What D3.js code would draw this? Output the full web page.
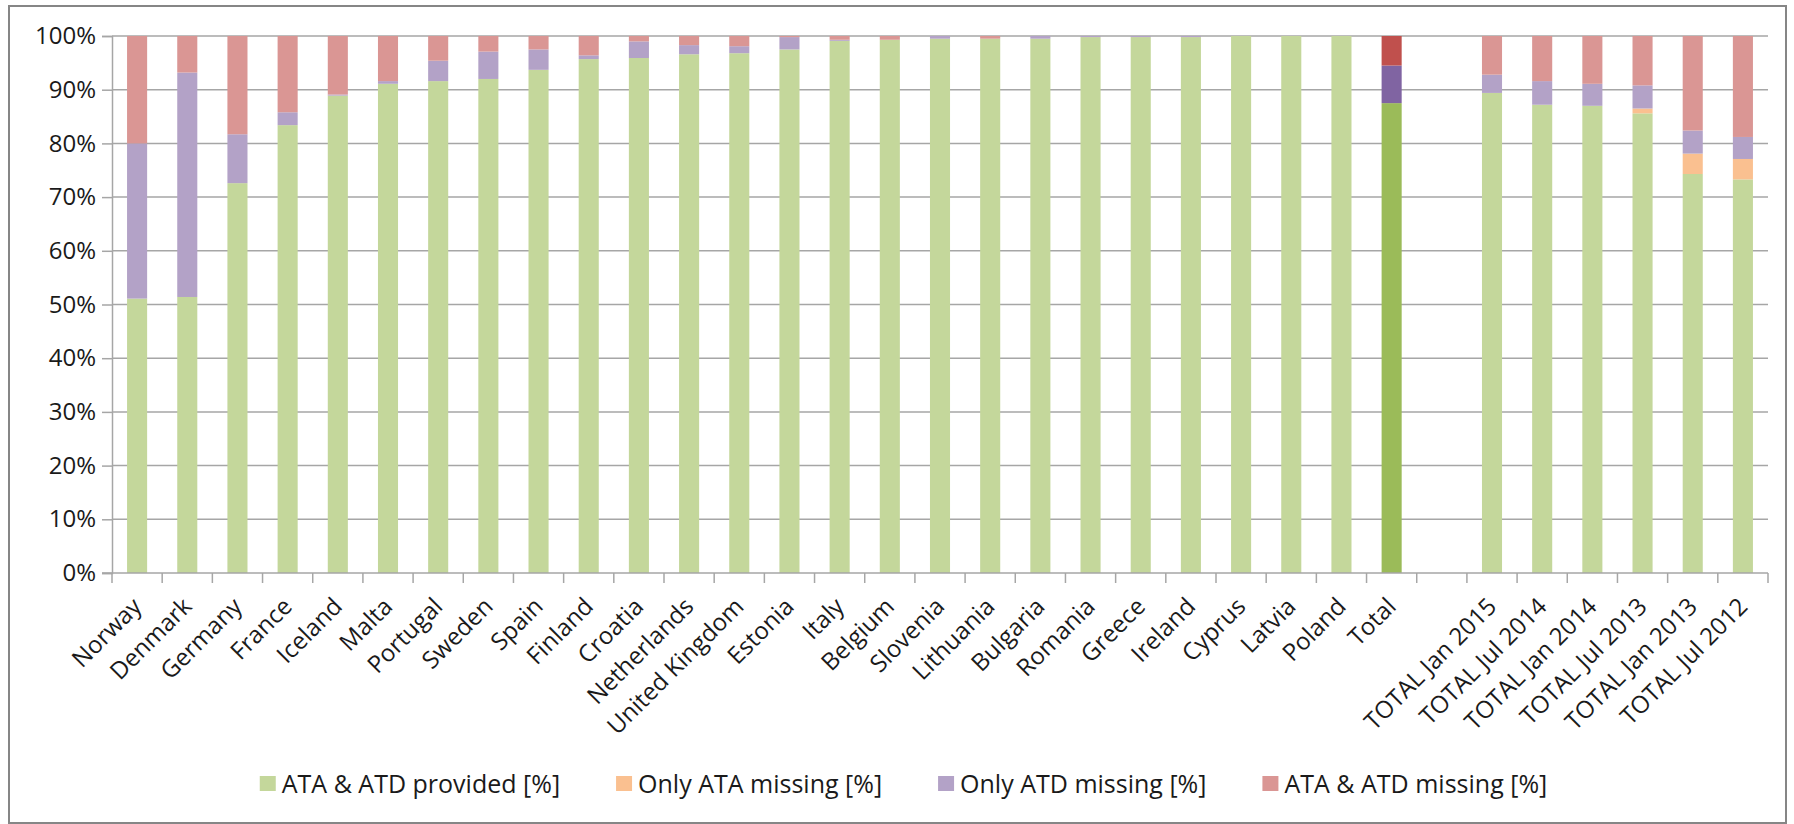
<!DOCTYPE html>
<html>
<head>
  <meta charset="utf-8">
  <style>
  body {
    margin: 0;
    background: #fff;
    font-family: "Open Sans", sans-serif;
  }
  .grid line {
    stroke: #a6a6a6;
    stroke-width: 1.5px;
  }
  .axis .domain {
    stroke: #a6a6a6;
    stroke-width: 1.5px;
  }
  .axis .tick line {
    stroke: #a6a6a6;
    stroke-width: 1.5px;
  }
  .axis text {
    fill: #1a1a1a;
  }
  .legend text {
    fill: #1a1a1a;
  }
  </style>
</head>
<body>
  <div id="chart"></div>
  <script src="https://d3js.org/d3.v7.min.js"></script>
  <script>
  // categories, in the order they appear; "" is the empty slot before the yearly totals
  var categories = ["Norway", "Denmark", "Germany", "France", "Iceland", "Malta", "Portugal", "Sweden",
    "Spain", "Finland", "Croatia", "Netherlands", "United Kingdom", "Estonia", "Italy", "Belgium",
    "Slovenia", "Lithuania", "Bulgaria", "Romania", "Greece", "Ireland", "Cyprus", "Latvia", "Poland",
    "Total", "", "TOTAL Jan 2015", "TOTAL Jul 2014", "TOTAL Jan 2014", "TOTAL Jul 2013",
    "TOTAL Jan 2013", "TOTAL Jul 2012"];

  var provided    = [51.1, 51.4, 72.6, 83.4, 88.9, 91.1, 91.6, 92.0, 93.7, 95.7, 95.9, 96.6, 96.8, 97.5, 99.1, 99.3,
    99.5, 99.5, 99.5, 99.8, 99.8, 99.8, 100, 100, 100, 87.5, 0, 89.4, 87.2, 87.0, 85.6, 74.3, 73.3];
  var onlyAta     = [0, 0, 0, 0, 0, 0, 0, 0, 0, 0, 0, 0, 0, 0, 0, 0,
    0, 0, 0, 0, 0, 0, 0, 0, 0, 0, 0, 0, 0, 0, 0.9, 3.8, 3.8];
  var onlyAtd     = [28.9, 41.8, 9.1, 2.4, 0.2, 0.5, 3.8, 5.1, 3.8, 0.7, 3.1, 1.7, 1.3, 2.3, 0.2, 0,
    0.5, 0, 0.5, 0.2, 0.2, 0.2, 0, 0, 0, 7.0, 0, 3.4, 4.4, 4.1, 4.3, 4.3, 4.1];
  var bothMissing = [20.0, 6.8, 18.3, 14.2, 10.9, 8.4, 4.6, 2.9, 2.5, 3.6, 1.0, 1.7, 1.9, 0.2, 0.7, 0.7,
    0, 0.5, 0, 0, 0, 0, 0, 0, 0, 5.5, 0, 7.2, 8.4, 8.9, 9.2, 17.6, 18.8];

  var seriesNames = ["ATA & ATD provided [%]", "Only ATA missing [%]", "Only ATD missing [%]", "ATA & ATD missing [%]"];
  var colors      = ["#c4d79b", "#fac090", "#b3a2c7", "#da9694"];
  var totalColors = ["#9bbb59", "#f79646", "#8064a2", "#c0504d"];
  var yTicks = d3.range(0, 101, 10);

  var width = 1794, height = 824;
  var margin = {top: 36, right: 26, bottom: 251, left: 112};

  var svg = d3.select("#chart").append("svg")
      .attr("width", width)
      .attr("height", height);

  // outer frame
  svg.append("rect")
      .attr("x", 9).attr("y", 6)
      .attr("width", 1777).attr("height", 817)
      .attr("fill", "#fff")
      .attr("stroke", "#868686")
      .attr("stroke-width", 2);

  var table = categories.map(function(c, i){
    return {cat: c, p: provided[i], a: onlyAta[i], d: onlyAtd[i], m: bothMissing[i]};
  });
  var keys = ["p", "a", "d", "m"];
  var stacked = d3.stack().keys(keys)(table);

  var x = d3.scaleBand()
    .domain(categories)
    .range([margin.left, width - margin.right])
    .paddingInner(0.6)
    .paddingOuter(0.3);

  var y = d3.scaleLinear()
    .domain([0, 100])
    .range([height - margin.bottom, margin.top]);

  // horizontal gridlines
  svg.append("g")
      .attr("class", "grid")
    .selectAll("line")
      .data(yTicks.slice(1))
    .enter().append("line")
      .attr("x1", margin.left)
      .attr("x2", width - margin.right)
      .attr("y1", function(d){ return y(d); })
      .attr("y2", function(d){ return y(d); });

  // bars
  svg.append("g")
    .selectAll("g")
      .data(stacked)
    .enter().append("g")
    .selectAll("rect")
      .data(function(s, si){ return s.map(function(v){ v.si = si; return v; }); })
    .enter().append("rect")
      .filter(function(v){ return v[1] - v[0] > 0; })
      .attr("x", function(v){ return x(v.data.cat); })
      .attr("y", function(v){ return y(v[1]); })
      .attr("width", x.bandwidth())
      .attr("height", function(v){ return y(v[0]) - y(v[1]); })
      .attr("fill", function(v){ return v.data.cat === "Total" ? totalColors[v.si] : colors[v.si]; });

  // y axis
  var yAxis = d3.axisLeft(y)
    .tickValues(yTicks)
    .tickSize(10)
    .tickPadding(6)
    .tickFormat(function(d){ return d + "%"; });

  svg.append("g")
      .attr("class", "axis")
      .attr("transform", "translate(" + margin.left + ",0)")
      .call(yAxis)
      .selectAll("text")
      .style("font-size", "24px")
      .style("font-family", "'Open Sans', sans-serif");

  // x axis: line, boundary ticks, rotated labels
  var base = y(0);
  var step = x.step();
  var xg = svg.append("g").attr("class", "axis");

  xg.append("line")
      .attr("class", "domain")
      .attr("x1", margin.left - 10)
      .attr("x2", width - margin.right)
      .attr("y1", base).attr("y2", base)
      .style("stroke", "#a6a6a6").style("stroke-width", "1.5px");

  xg.selectAll("line.tk")
      .data(d3.range(categories.length + 1))
    .enter().append("line")
      .attr("class", "tk")
      .attr("x1", function(i){ return margin.left + i * step; })
      .attr("x2", function(i){ return margin.left + i * step; })
      .attr("y1", base)
      .attr("y2", base + 10)
      .style("stroke", "#a6a6a6").style("stroke-width", "1.5px");

  xg.selectAll("text")
      .data(categories)
    .enter().append("text")
      .attr("transform", function(c){
        return "translate(" + (x(c) + x.bandwidth() / 2) + "," + (base + 29) + ") rotate(-45)";
      })
      .attr("text-anchor", "end")
      .attr("dy", "0.35em")
      .style("font-size", "24px")
      .text(function(c){ return c; });

  // legend
  var legend = svg.append("g").attr("class", "legend");
  var items = legend.selectAll("g")
      .data(seriesNames)
    .enter().append("g");

  items.append("rect")
      .attr("width", 16).attr("height", 15)
      .attr("y", -8)
      .attr("fill", function(d, i){ return colors[i]; });

  items.append("text")
      .attr("x", 22)
      .attr("dy", "0.35em")
      .style("font-size", "25px")
      .text(function(d){ return d; });

  var gap = 56, offs = [], cur = 0;
  items.each(function(){
    offs.push(cur);
    cur += 22 + d3.select(this).select("text").node().getComputedTextLength() + gap;
  });
  var total = cur - gap;
  var start = (9 + 1786) / 2 - total / 2 + 6;
  items.attr("transform", function(d, i){ return "translate(" + (start + offs[i]) + ",784)"; });
  </script>
</body>
</html>
